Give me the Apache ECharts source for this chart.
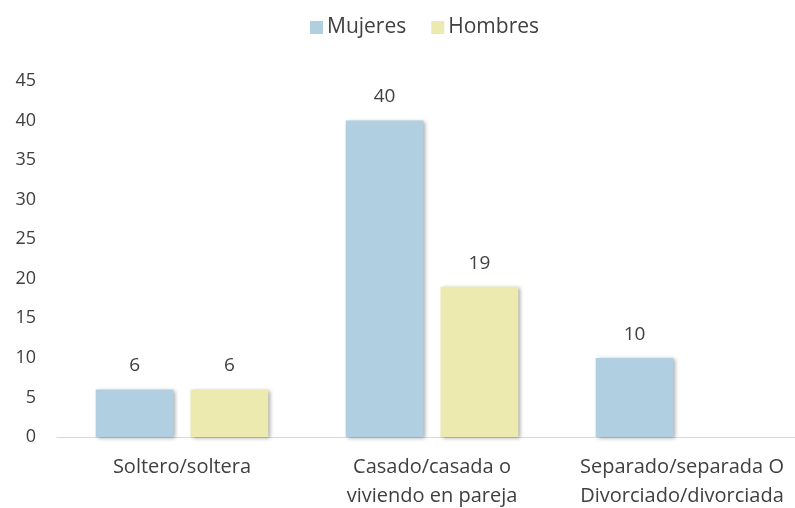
<!DOCTYPE html>
<html>
<head>
<meta charset="utf-8">
<script src="https://cdn.jsdelivr.net/npm/echarts@6/dist/echarts.min.js"></script>
<style>html,body{margin:0;padding:0;background:#fff;}#c{width:795px;height:508px;}</style>
</head>
<body>
<div id="c"></div>
<script>
const categories = ['Soltero/soltera', 'Casado/casada o\nviviendo en pareja', 'Separado/separada O\nDivorciado/divorciada'];
const mujeres = [6, 40, 10];
const hombres = [6, 19, null];
const seriesNames = ['Mujeres', 'Hombres'];

const chart = echarts.init(document.getElementById('c'));
const font = '"Open Sans", sans-serif';
const barShadow = {shadowBlur: 4, shadowColor: 'rgba(0,0,0,0.35)', shadowOffsetX: 2, shadowOffsetY: 1};
chart.setOption({
  animation: false,
  textStyle: {fontFamily: font},
  legend: {
    top: 12, left: 305, itemWidth: 13, itemHeight: 13, itemGap: 25, icon: 'rect',
    textStyle: {fontSize: 21, color: '#404040', fontFamily: font, padding: [0, 0, 0, -1]},
    data: seriesNames
  },
  grid: {left: 57, width: 750, top: 81, bottom: 71, containLabel: false, outerBoundsMode: 'none'},
  xAxis: {
    type: 'category', data: categories,
    axisLine: {lineStyle: {color: '#d9d9d9', width: 1}},
    axisTick: {show: false},
    axisLabel: {color: '#404040', fontSize: 20, margin: 16, lineHeight: 29, interval: 0, fontFamily: font}
  },
  yAxis: {
    type: 'value', min: 0, max: 45, interval: 5,
    axisLine: {show: false}, axisTick: {show: false},
    splitLine: {show: false},
    axisLabel: {color: '#404040', fontSize: 18, margin: 21, fontFamily: font}
  },
  series: [
    {name: seriesNames[0], type: 'bar', data: mujeres, barGap: '22%', barCategoryGap: '31%',
     itemStyle: Object.assign({color: '#b0cfe1'}, barShadow),
     label: {show: true, position: 'top', distance: 14, fontSize: 19, color: '#404040', fontFamily: font}},
    {name: seriesNames[1], type: 'bar', data: hombres, barGap: '22%', barCategoryGap: '31%',
     itemStyle: Object.assign({color: '#edeab0'}, barShadow),
     label: {show: true, position: 'top', distance: 14, fontSize: 19, color: '#404040', fontFamily: font}}
  ]
});
</script>
</body>
</html>
